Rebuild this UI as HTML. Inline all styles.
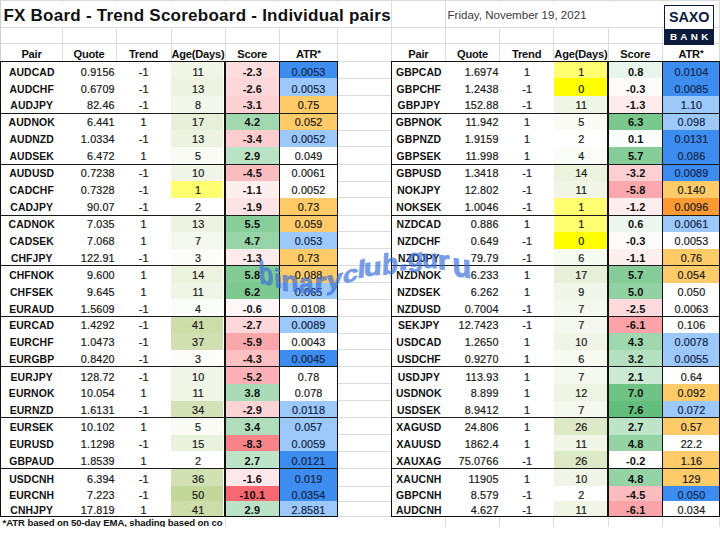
<!DOCTYPE html>
<html><head><meta charset="utf-8"><title>FX Board</title>
<style>
html,body{margin:0;padding:0;background:#fff;}
body{width:720px;height:536px;position:relative;overflow:hidden;font-family:"Liberation Sans",sans-serif;}
#c div{position:absolute;}
.t{font-size:10.4px;color:#111;white-space:nowrap;overflow:visible;letter-spacing:0.1px}
.n{color:#1c1c1c;font-size:10.8px;letter-spacing:0.15px;-webkit-text-stroke:0.22px}
.s{font-size:11px}
.row{height:16px;line-height:16px;font-size:0;white-space:nowrap}
.c{display:inline-block;line-height:16px;vertical-align:baseline;overflow:visible}
.h{font-size:11.1px;color:#111;letter-spacing:-0.2px}
.st{font-size:9.5px;line-height:0;position:relative;top:-1.2px;vertical-align:baseline}
#title{position:absolute;left:3.4px;top:3.6px;font-weight:bold;font-size:17px;line-height:24px;color:#111;white-space:nowrap;letter-spacing:0.25px}
#date{position:absolute;left:447.5px;top:6.5px;font-size:11.55px;line-height:16px;color:#3a3a3a;white-space:nowrap}
#logo{position:absolute;left:664.1px;top:5.4px;width:50px;height:39.3px;background:#0c1b3c;}
#logo .w{position:absolute;left:1.1px;top:1.1px;right:1.1px;height:22.5px;background:#fff;color:#0d1c3d;font-weight:bold;font-size:14.4px;line-height:23.6px;text-align:center;letter-spacing:-0.1px}
#logo .b{position:absolute;left:0;right:0;top:24.6px;height:14px;color:#fff;font-weight:bold;font-size:9.9px;line-height:14px;text-align:center;letter-spacing:3.3px;text-indent:3.3px}
</style></head><body>
<div id="c">
<div class="" style="left:0.00px;top:0.00px;width:720.00px;height:1.20px;background:#dcdcdc"></div>
<div class="" style="left:0.00px;top:27.00px;width:720.00px;height:1.00px;background:#dcdcdc"></div>
<div class="" style="left:0.00px;top:43.30px;width:720.00px;height:1.00px;background:#dcdcdc"></div>
<div class="" style="left:0.00px;top:60.50px;width:720.00px;height:1.00px;background:#dcdcdc"></div>
<div class="" style="left:0.00px;top:77.92px;width:720.00px;height:1.00px;background:#dcdcdc"></div>
<div class="" style="left:0.00px;top:95.08px;width:720.00px;height:1.00px;background:#dcdcdc"></div>
<div class="" style="left:0.00px;top:112.50px;width:720.00px;height:1.00px;background:#dcdcdc"></div>
<div class="" style="left:0.00px;top:129.59px;width:720.00px;height:1.00px;background:#dcdcdc"></div>
<div class="" style="left:0.00px;top:146.41px;width:720.00px;height:1.00px;background:#dcdcdc"></div>
<div class="" style="left:0.00px;top:163.50px;width:720.00px;height:1.00px;background:#dcdcdc"></div>
<div class="" style="left:0.00px;top:180.59px;width:720.00px;height:1.00px;background:#dcdcdc"></div>
<div class="" style="left:0.00px;top:197.41px;width:720.00px;height:1.00px;background:#dcdcdc"></div>
<div class="" style="left:0.00px;top:214.50px;width:720.00px;height:1.00px;background:#dcdcdc"></div>
<div class="" style="left:0.00px;top:231.48px;width:720.00px;height:1.00px;background:#dcdcdc"></div>
<div class="" style="left:0.00px;top:248.22px;width:720.00px;height:1.00px;background:#dcdcdc"></div>
<div class="" style="left:0.00px;top:265.20px;width:720.00px;height:1.00px;background:#dcdcdc"></div>
<div class="" style="left:0.00px;top:282.18px;width:720.00px;height:1.00px;background:#dcdcdc"></div>
<div class="" style="left:0.00px;top:298.92px;width:720.00px;height:1.00px;background:#dcdcdc"></div>
<div class="" style="left:0.00px;top:315.90px;width:720.00px;height:1.00px;background:#dcdcdc"></div>
<div class="" style="left:0.00px;top:332.75px;width:720.00px;height:1.00px;background:#dcdcdc"></div>
<div class="" style="left:0.00px;top:349.35px;width:720.00px;height:1.00px;background:#dcdcdc"></div>
<div class="" style="left:0.00px;top:366.20px;width:720.00px;height:1.00px;background:#dcdcdc"></div>
<div class="" style="left:0.00px;top:383.25px;width:720.00px;height:1.00px;background:#dcdcdc"></div>
<div class="" style="left:0.00px;top:400.05px;width:720.00px;height:1.00px;background:#dcdcdc"></div>
<div class="" style="left:0.00px;top:417.10px;width:720.00px;height:1.00px;background:#dcdcdc"></div>
<div class="" style="left:0.00px;top:434.05px;width:720.00px;height:1.00px;background:#dcdcdc"></div>
<div class="" style="left:0.00px;top:450.75px;width:720.00px;height:1.00px;background:#dcdcdc"></div>
<div class="" style="left:0.00px;top:467.70px;width:720.00px;height:1.00px;background:#dcdcdc"></div>
<div class="" style="left:0.00px;top:485.50px;width:720.00px;height:1.00px;background:#dcdcdc"></div>
<div class="" style="left:0.00px;top:500.70px;width:720.00px;height:1.00px;background:#dcdcdc"></div>
<div class="" style="left:0.00px;top:515.80px;width:720.00px;height:1.00px;background:#dcdcdc"></div>
<div class="" style="left:61.50px;top:0.00px;width:1.00px;height:527.00px;background:#dcdcdc"></div>
<div class="" style="left:115.50px;top:0.00px;width:1.00px;height:527.00px;background:#dcdcdc"></div>
<div class="" style="left:170.50px;top:0.00px;width:1.00px;height:527.00px;background:#dcdcdc"></div>
<div class="" style="left:224.50px;top:0.00px;width:1.00px;height:527.00px;background:#dcdcdc"></div>
<div class="" style="left:278.80px;top:0.00px;width:1.00px;height:527.00px;background:#dcdcdc"></div>
<div class="" style="left:337.00px;top:0.00px;width:1.00px;height:527.00px;background:#dcdcdc"></div>
<div class="" style="left:390.70px;top:0.00px;width:1.00px;height:527.00px;background:#dcdcdc"></div>
<div class="" style="left:445.00px;top:0.00px;width:1.00px;height:527.00px;background:#dcdcdc"></div>
<div class="" style="left:499.00px;top:0.00px;width:1.00px;height:527.00px;background:#dcdcdc"></div>
<div class="" style="left:553.30px;top:0.00px;width:1.00px;height:527.00px;background:#dcdcdc"></div>
<div class="" style="left:607.50px;top:0.00px;width:1.00px;height:527.00px;background:#dcdcdc"></div>
<div class="" style="left:662.00px;top:0.00px;width:1.00px;height:527.00px;background:#dcdcdc"></div>
<div class="" style="left:719.00px;top:0.00px;width:1.00px;height:527.00px;background:#dcdcdc"></div>
<div class="" style="left:0.00px;top:0.00px;width:0.90px;height:527.00px;background:#d0d0d0"></div>
<div class="" style="left:2.00px;top:2.00px;width:388.00px;height:25.00px;background:#fff"></div>
<div class="" style="left:446.50px;top:2.00px;width:216.00px;height:25.00px;background:#fff"></div>
<div class="" style="left:446.50px;top:2.00px;width:216.00px;height:25.00px;background:#fff"></div>
<div class="" style="left:1.00px;top:61.00px;width:336.50px;height:455.30px;background:#fff"></div>
<div class="" style="left:171.30px;top:61.00px;width:51.40px;height:17.42px;background:#f0f5e5"></div>
<div class="" style="left:225.00px;top:61.00px;width:54.00px;height:17.42px;background:#fdddde"></div>
<div class="" style="left:279.30px;top:61.00px;width:58.20px;height:17.42px;background:#3d8df0"></div>
<div class="row" style="left:1.20px;top:63.75px;"><span class="c t" style="width:61.00px;font-weight:bold;text-align:center">AUDCAD</span><span class="c t n" style="width:52.60px;text-align:right;margin-right:1.40px">0.9156</span><span class="c t n" style="width:55.00px;text-align:center">-1</span><span class="c t n" style="width:54.00px;text-align:center">11</span><span class="c t s" style="width:54.30px;font-weight:bold;text-align:center">-2.3</span><span class="c t n" style="width:58.20px;text-align:center;color:#14264a">0.0053</span></div>
<div class="" style="left:171.30px;top:78.42px;width:51.40px;height:17.16px;background:#edf3e0"></div>
<div class="" style="left:225.00px;top:78.42px;width:54.00px;height:17.16px;background:#fdd8da"></div>
<div class="" style="left:279.30px;top:78.42px;width:58.20px;height:17.16px;background:#9cc9f9"></div>
<div class="row" style="left:1.20px;top:80.55px;"><span class="c t" style="width:61.00px;font-weight:bold;text-align:center">AUDCHF</span><span class="c t n" style="width:52.60px;text-align:right;margin-right:1.40px">0.6709</span><span class="c t n" style="width:55.00px;text-align:center">-1</span><span class="c t n" style="width:54.00px;text-align:center">13</span><span class="c t s" style="width:54.30px;font-weight:bold;text-align:center">-2.6</span><span class="c t n" style="width:58.20px;text-align:center;color:#14264a">0.0053</span></div>
<div class="" style="left:171.30px;top:95.58px;width:51.40px;height:17.42px;background:#f4f7ec"></div>
<div class="" style="left:225.00px;top:95.58px;width:54.00px;height:17.42px;background:#fdd1d3"></div>
<div class="" style="left:279.30px;top:95.58px;width:58.20px;height:17.42px;background:#ffcb68"></div>
<div class="row" style="left:1.20px;top:97.05px;"><span class="c t" style="width:61.00px;font-weight:bold;text-align:center">AUDJPY</span><span class="c t n" style="width:52.60px;text-align:right;margin-right:1.40px">82.46</span><span class="c t n" style="width:55.00px;text-align:center">-1</span><span class="c t n" style="width:54.00px;text-align:center">8</span><span class="c t s" style="width:54.30px;font-weight:bold;text-align:center">-3.1</span><span class="c t n" style="width:58.20px;text-align:center">0.75</span></div>
<div class="" style="left:171.30px;top:113.00px;width:51.40px;height:17.09px;background:#e8efd8"></div>
<div class="" style="left:225.00px;top:113.00px;width:54.00px;height:17.09px;background:#a1d8af"></div>
<div class="" style="left:279.30px;top:113.00px;width:58.20px;height:17.09px;background:#ffcb68"></div>
<div class="row" style="left:1.20px;top:114.05px;"><span class="c t" style="width:61.00px;font-weight:bold;text-align:center">AUDNOK</span><span class="c t n" style="width:52.60px;text-align:right;margin-right:1.40px">6.441</span><span class="c t n" style="width:55.00px;text-align:center">1</span><span class="c t n" style="width:54.00px;text-align:center">17</span><span class="c t s" style="width:54.30px;font-weight:bold;text-align:center">4.2</span><span class="c t n" style="width:58.20px;text-align:center">0.052</span></div>
<div class="" style="left:171.30px;top:130.09px;width:51.40px;height:16.83px;background:#edf3e0"></div>
<div class="" style="left:225.00px;top:130.09px;width:54.00px;height:16.83px;background:#fccccf"></div>
<div class="" style="left:279.30px;top:130.09px;width:58.20px;height:16.83px;background:#9cc9f9"></div>
<div class="row" style="left:1.20px;top:131.35px;"><span class="c t" style="width:61.00px;font-weight:bold;text-align:center">AUDNZD</span><span class="c t n" style="width:52.60px;text-align:right;margin-right:1.40px">1.0334</span><span class="c t n" style="width:55.00px;text-align:center">-1</span><span class="c t n" style="width:54.00px;text-align:center">13</span><span class="c t s" style="width:54.30px;font-weight:bold;text-align:center">-3.4</span><span class="c t n" style="width:58.20px;text-align:center;color:#14264a">0.0052</span></div>
<div class="" style="left:171.30px;top:146.91px;width:51.40px;height:17.09px;background:#f9fbf4"></div>
<div class="" style="left:225.00px;top:146.91px;width:54.00px;height:17.09px;background:#bae2c5"></div>
<div class="" style="left:279.30px;top:146.91px;width:58.20px;height:17.09px;background:#ffffff"></div>
<div class="row" style="left:1.20px;top:148.05px;"><span class="c t" style="width:61.00px;font-weight:bold;text-align:center">AUDSEK</span><span class="c t n" style="width:52.60px;text-align:right;margin-right:1.40px">6.472</span><span class="c t n" style="width:55.00px;text-align:center">1</span><span class="c t n" style="width:54.00px;text-align:center">5</span><span class="c t s" style="width:54.30px;font-weight:bold;text-align:center">2.9</span><span class="c t n" style="width:58.20px;text-align:center">0.049</span></div>
<div class="" style="left:171.30px;top:164.00px;width:51.40px;height:17.09px;background:#f1f5e7"></div>
<div class="" style="left:225.00px;top:164.00px;width:54.00px;height:17.09px;background:#fbbcbf"></div>
<div class="" style="left:279.30px;top:164.00px;width:58.20px;height:17.09px;background:#ffffff"></div>
<div class="row" style="left:1.20px;top:165.25px;"><span class="c t" style="width:61.00px;font-weight:bold;text-align:center">AUDUSD</span><span class="c t n" style="width:52.60px;text-align:right;margin-right:1.40px">0.7238</span><span class="c t n" style="width:55.00px;text-align:center">-1</span><span class="c t n" style="width:54.00px;text-align:center">10</span><span class="c t s" style="width:54.30px;font-weight:bold;text-align:center">-4.5</span><span class="c t n" style="width:58.20px;text-align:center">0.0061</span></div>
<div class="" style="left:171.30px;top:181.09px;width:51.40px;height:16.83px;background:#ffff71"></div>
<div class="" style="left:225.00px;top:181.09px;width:54.00px;height:16.83px;background:#feefef"></div>
<div class="" style="left:279.30px;top:181.09px;width:58.20px;height:16.83px;background:#ffffff"></div>
<div class="row" style="left:1.20px;top:182.05px;"><span class="c t" style="width:61.00px;font-weight:bold;text-align:center">CADCHF</span><span class="c t n" style="width:52.60px;text-align:right;margin-right:1.40px">0.7328</span><span class="c t n" style="width:55.00px;text-align:center">-1</span><span class="c t n" style="width:54.00px;text-align:center">1</span><span class="c t s" style="width:54.30px;font-weight:bold;text-align:center">-1.1</span><span class="c t n" style="width:58.20px;text-align:center">0.0052</span></div>
<div class="" style="left:171.30px;top:197.91px;width:51.40px;height:17.09px;background:#ffffff"></div>
<div class="" style="left:225.00px;top:197.91px;width:54.00px;height:17.09px;background:#fde3e4"></div>
<div class="" style="left:279.30px;top:197.91px;width:58.20px;height:17.09px;background:#ffcb68"></div>
<div class="row" style="left:1.20px;top:199.05px;"><span class="c t" style="width:61.00px;font-weight:bold;text-align:center">CADJPY</span><span class="c t n" style="width:52.60px;text-align:right;margin-right:1.40px">90.07</span><span class="c t n" style="width:55.00px;text-align:center">-1</span><span class="c t n" style="width:54.00px;text-align:center">2</span><span class="c t s" style="width:54.30px;font-weight:bold;text-align:center">-1.9</span><span class="c t n" style="width:58.20px;text-align:center">0.73</span></div>
<div class="" style="left:171.30px;top:215.00px;width:51.40px;height:16.98px;background:#edf3e0"></div>
<div class="" style="left:225.00px;top:215.00px;width:54.00px;height:16.98px;background:#88ce9b"></div>
<div class="" style="left:279.30px;top:215.00px;width:58.20px;height:16.98px;background:#ffcb68"></div>
<div class="row" style="left:1.20px;top:215.65px;"><span class="c t" style="width:61.00px;font-weight:bold;text-align:center">CADNOK</span><span class="c t n" style="width:52.60px;text-align:right;margin-right:1.40px">7.035</span><span class="c t n" style="width:55.00px;text-align:center">1</span><span class="c t n" style="width:54.00px;text-align:center">13</span><span class="c t s" style="width:54.30px;font-weight:bold;text-align:center">5.5</span><span class="c t n" style="width:58.20px;text-align:center">0.059</span></div>
<div class="" style="left:171.30px;top:231.98px;width:51.40px;height:16.73px;background:#f5f8ef"></div>
<div class="" style="left:225.00px;top:231.98px;width:54.00px;height:16.73px;background:#97d4a7"></div>
<div class="" style="left:279.30px;top:231.98px;width:58.20px;height:16.73px;background:#9cc9f9"></div>
<div class="row" style="left:1.20px;top:232.65px;"><span class="c t" style="width:61.00px;font-weight:bold;text-align:center">CADSEK</span><span class="c t n" style="width:52.60px;text-align:right;margin-right:1.40px">7.068</span><span class="c t n" style="width:55.00px;text-align:center">1</span><span class="c t n" style="width:54.00px;text-align:center">7</span><span class="c t s" style="width:54.30px;font-weight:bold;text-align:center">4.7</span><span class="c t n" style="width:58.20px;text-align:center;color:#14264a">0.053</span></div>
<div class="" style="left:171.30px;top:248.72px;width:51.40px;height:16.98px;background:#fcfdfa"></div>
<div class="" style="left:225.00px;top:248.72px;width:54.00px;height:16.98px;background:#feeced"></div>
<div class="" style="left:279.30px;top:248.72px;width:58.20px;height:16.98px;background:#ffcb68"></div>
<div class="row" style="left:1.20px;top:249.95px;"><span class="c t" style="width:61.00px;font-weight:bold;text-align:center">CHFJPY</span><span class="c t n" style="width:52.60px;text-align:right;margin-right:1.40px">122.91</span><span class="c t n" style="width:55.00px;text-align:center">-1</span><span class="c t n" style="width:54.00px;text-align:center">3</span><span class="c t s" style="width:54.30px;font-weight:bold;text-align:center">-1.3</span><span class="c t n" style="width:58.20px;text-align:center">0.73</span></div>
<div class="" style="left:171.30px;top:265.70px;width:51.40px;height:16.98px;background:#ecf2de"></div>
<div class="" style="left:225.00px;top:265.70px;width:54.00px;height:16.98px;background:#83cb96"></div>
<div class="" style="left:279.30px;top:265.70px;width:58.20px;height:16.98px;background:#ffcb68"></div>
<div class="row" style="left:1.20px;top:267.05px;"><span class="c t" style="width:61.00px;font-weight:bold;text-align:center">CHFNOK</span><span class="c t n" style="width:52.60px;text-align:right;margin-right:1.40px">9.600</span><span class="c t n" style="width:55.00px;text-align:center">1</span><span class="c t n" style="width:54.00px;text-align:center">14</span><span class="c t s" style="width:54.30px;font-weight:bold;text-align:center">5.8</span><span class="c t n" style="width:58.20px;text-align:center">0.088</span></div>
<div class="" style="left:171.30px;top:282.68px;width:51.40px;height:16.73px;background:#f0f5e5"></div>
<div class="" style="left:225.00px;top:282.68px;width:54.00px;height:16.73px;background:#7cc890"></div>
<div class="" style="left:279.30px;top:282.68px;width:58.20px;height:16.73px;background:#9cc9f9"></div>
<div class="row" style="left:1.20px;top:283.85px;"><span class="c t" style="width:61.00px;font-weight:bold;text-align:center">CHFSEK</span><span class="c t n" style="width:52.60px;text-align:right;margin-right:1.40px">9.645</span><span class="c t n" style="width:55.00px;text-align:center">1</span><span class="c t n" style="width:54.00px;text-align:center">11</span><span class="c t s" style="width:54.30px;font-weight:bold;text-align:center">6.2</span><span class="c t n" style="width:58.20px;text-align:center;color:#14264a">0.065</span></div>
<div class="" style="left:171.30px;top:299.42px;width:51.40px;height:16.98px;background:#fafcf7"></div>
<div class="" style="left:225.00px;top:299.42px;width:54.00px;height:16.98px;background:#fff6f7"></div>
<div class="" style="left:279.30px;top:299.42px;width:58.20px;height:16.98px;background:#ffffff"></div>
<div class="row" style="left:1.20px;top:300.65px;"><span class="c t" style="width:61.00px;font-weight:bold;text-align:center">EURAUD</span><span class="c t n" style="width:52.60px;text-align:right;margin-right:1.40px">1.5609</span><span class="c t n" style="width:55.00px;text-align:center">-1</span><span class="c t n" style="width:54.00px;text-align:center">4</span><span class="c t s" style="width:54.30px;font-weight:bold;text-align:center">-0.6</span><span class="c t n" style="width:58.20px;text-align:center">0.0108</span></div>
<div class="" style="left:171.30px;top:316.40px;width:51.40px;height:16.85px;background:#cdddaa"></div>
<div class="" style="left:225.00px;top:316.40px;width:54.00px;height:16.85px;background:#fdd7d9"></div>
<div class="" style="left:279.30px;top:316.40px;width:58.20px;height:16.85px;background:#9cc9f9"></div>
<div class="row" style="left:1.20px;top:317.45px;"><span class="c t" style="width:61.00px;font-weight:bold;text-align:center">EURCAD</span><span class="c t n" style="width:52.60px;text-align:right;margin-right:1.40px">1.4292</span><span class="c t n" style="width:55.00px;text-align:center">-1</span><span class="c t n" style="width:54.00px;text-align:center">41</span><span class="c t s" style="width:54.30px;font-weight:bold;text-align:center">-2.7</span><span class="c t n" style="width:58.20px;text-align:center;color:#14264a">0.0089</span></div>
<div class="" style="left:171.30px;top:333.25px;width:51.40px;height:16.60px;background:#d1e0b1"></div>
<div class="" style="left:225.00px;top:333.25px;width:54.00px;height:16.60px;background:#faa7ab"></div>
<div class="" style="left:279.30px;top:333.25px;width:58.20px;height:16.60px;background:#ffffff"></div>
<div class="row" style="left:1.20px;top:334.25px;"><span class="c t" style="width:61.00px;font-weight:bold;text-align:center">EURCHF</span><span class="c t n" style="width:52.60px;text-align:right;margin-right:1.40px">1.0473</span><span class="c t n" style="width:55.00px;text-align:center">-1</span><span class="c t n" style="width:54.00px;text-align:center">37</span><span class="c t s" style="width:54.30px;font-weight:bold;text-align:center">-5.9</span><span class="c t n" style="width:58.20px;text-align:center">0.0043</span></div>
<div class="" style="left:171.30px;top:349.85px;width:51.40px;height:16.85px;background:#fcfdfa"></div>
<div class="" style="left:225.00px;top:349.85px;width:54.00px;height:16.85px;background:#fcbfc2"></div>
<div class="" style="left:279.30px;top:349.85px;width:58.20px;height:16.85px;background:#3d8df0"></div>
<div class="row" style="left:1.20px;top:351.25px;"><span class="c t" style="width:61.00px;font-weight:bold;text-align:center">EURGBP</span><span class="c t n" style="width:52.60px;text-align:right;margin-right:1.40px">0.8420</span><span class="c t n" style="width:55.00px;text-align:center">-1</span><span class="c t n" style="width:54.00px;text-align:center">3</span><span class="c t s" style="width:54.30px;font-weight:bold;text-align:center">-4.3</span><span class="c t n" style="width:58.20px;text-align:center;color:#14264a">0.0045</span></div>
<div class="" style="left:171.30px;top:366.70px;width:51.40px;height:17.05px;background:#f1f5e7"></div>
<div class="" style="left:225.00px;top:366.70px;width:54.00px;height:17.05px;background:#fbb1b5"></div>
<div class="" style="left:279.30px;top:366.70px;width:58.20px;height:17.05px;background:#ffffff"></div>
<div class="row" style="left:1.20px;top:368.65px;"><span class="c t" style="width:61.00px;font-weight:bold;text-align:center">EURJPY</span><span class="c t n" style="width:52.60px;text-align:right;margin-right:1.40px">128.72</span><span class="c t n" style="width:55.00px;text-align:center">-1</span><span class="c t n" style="width:54.00px;text-align:center">10</span><span class="c t s" style="width:54.30px;font-weight:bold;text-align:center">-5.2</span><span class="c t n" style="width:58.20px;text-align:center">0.78</span></div>
<div class="" style="left:171.30px;top:383.75px;width:51.40px;height:16.80px;background:#f0f5e5"></div>
<div class="" style="left:225.00px;top:383.75px;width:54.00px;height:16.80px;background:#a8dbb6"></div>
<div class="" style="left:279.30px;top:383.75px;width:58.20px;height:16.80px;background:#ffffff"></div>
<div class="row" style="left:1.20px;top:385.25px;"><span class="c t" style="width:61.00px;font-weight:bold;text-align:center">EURNOK</span><span class="c t n" style="width:52.60px;text-align:right;margin-right:1.40px">10.054</span><span class="c t n" style="width:55.00px;text-align:center">1</span><span class="c t n" style="width:54.00px;text-align:center">11</span><span class="c t s" style="width:54.30px;font-weight:bold;text-align:center">3.8</span><span class="c t n" style="width:58.20px;text-align:center">0.078</span></div>
<div class="" style="left:171.30px;top:400.55px;width:51.40px;height:17.05px;background:#d4e2b7"></div>
<div class="" style="left:225.00px;top:400.55px;width:54.00px;height:17.05px;background:#fdd4d6"></div>
<div class="" style="left:279.30px;top:400.55px;width:58.20px;height:17.05px;background:#9cc9f9"></div>
<div class="row" style="left:1.20px;top:402.25px;"><span class="c t" style="width:61.00px;font-weight:bold;text-align:center">EURNZD</span><span class="c t n" style="width:52.60px;text-align:right;margin-right:1.40px">1.6131</span><span class="c t n" style="width:55.00px;text-align:center">-1</span><span class="c t n" style="width:54.00px;text-align:center">34</span><span class="c t s" style="width:54.30px;font-weight:bold;text-align:center">-2.9</span><span class="c t n" style="width:58.20px;text-align:center;color:#14264a">0.0118</span></div>
<div class="" style="left:171.30px;top:417.60px;width:51.40px;height:16.95px;background:#f9fbf4"></div>
<div class="" style="left:225.00px;top:417.60px;width:54.00px;height:16.95px;background:#b0debc"></div>
<div class="" style="left:279.30px;top:417.60px;width:58.20px;height:16.95px;background:#9cc9f9"></div>
<div class="row" style="left:1.20px;top:419.25px;"><span class="c t" style="width:61.00px;font-weight:bold;text-align:center">EURSEK</span><span class="c t n" style="width:52.60px;text-align:right;margin-right:1.40px">10.102</span><span class="c t n" style="width:55.00px;text-align:center">1</span><span class="c t n" style="width:54.00px;text-align:center">5</span><span class="c t s" style="width:54.30px;font-weight:bold;text-align:center">3.4</span><span class="c t n" style="width:58.20px;text-align:center;color:#14264a">0.057</span></div>
<div class="" style="left:171.30px;top:434.55px;width:51.40px;height:16.70px;background:#eaf1dc"></div>
<div class="" style="left:225.00px;top:434.55px;width:54.00px;height:16.70px;background:#f88389"></div>
<div class="" style="left:279.30px;top:434.55px;width:58.20px;height:16.70px;background:#9cc9f9"></div>
<div class="row" style="left:1.20px;top:435.85px;"><span class="c t" style="width:61.00px;font-weight:bold;text-align:center">EURUSD</span><span class="c t n" style="width:52.60px;text-align:right;margin-right:1.40px">1.1298</span><span class="c t n" style="width:55.00px;text-align:center">-1</span><span class="c t n" style="width:54.00px;text-align:center">15</span><span class="c t s" style="width:54.30px;font-weight:bold;text-align:center">-8.3</span><span class="c t n" style="width:58.20px;text-align:center;color:#14264a">0.0059</span></div>
<div class="" style="left:171.30px;top:451.25px;width:51.40px;height:16.95px;background:#ffffff"></div>
<div class="" style="left:225.00px;top:451.25px;width:54.00px;height:16.95px;background:#bee4c8"></div>
<div class="" style="left:279.30px;top:451.25px;width:58.20px;height:16.95px;background:#3d8df0"></div>
<div class="row" style="left:1.20px;top:452.55px;"><span class="c t" style="width:61.00px;font-weight:bold;text-align:center">GBPAUD</span><span class="c t n" style="width:52.60px;text-align:right;margin-right:1.40px">1.8539</span><span class="c t n" style="width:55.00px;text-align:center">1</span><span class="c t n" style="width:54.00px;text-align:center">2</span><span class="c t s" style="width:54.30px;font-weight:bold;text-align:center">2.7</span><span class="c t n" style="width:58.20px;text-align:center;color:#14264a">0.0121</span></div>
<div class="" style="left:171.30px;top:468.20px;width:51.40px;height:17.80px;background:#d2e1b3"></div>
<div class="" style="left:225.00px;top:468.20px;width:54.00px;height:17.80px;background:#fee7e8"></div>
<div class="" style="left:279.30px;top:468.20px;width:58.20px;height:17.80px;background:#3d8df0"></div>
<div class="row" style="left:1.20px;top:470.65px;"><span class="c t" style="width:61.00px;font-weight:bold;text-align:center">USDCNH</span><span class="c t n" style="width:52.60px;text-align:right;margin-right:1.40px">6.394</span><span class="c t n" style="width:55.00px;text-align:center">-1</span><span class="c t n" style="width:54.00px;text-align:center">36</span><span class="c t s" style="width:54.30px;font-weight:bold;text-align:center">-1.6</span><span class="c t n" style="width:58.20px;text-align:center;color:#14264a">0.019</span></div>
<div class="" style="left:171.30px;top:486.00px;width:51.40px;height:15.20px;background:#c4d79b"></div>
<div class="" style="left:225.00px;top:486.00px;width:54.00px;height:15.20px;background:#f76870"></div>
<div class="" style="left:279.30px;top:486.00px;width:58.20px;height:15.20px;background:#3d8df0"></div>
<div class="row" style="left:1.20px;top:486.65px;"><span class="c t" style="width:61.00px;font-weight:bold;text-align:center">EURCNH</span><span class="c t n" style="width:52.60px;text-align:right;margin-right:1.40px">7.223</span><span class="c t n" style="width:55.00px;text-align:center">-1</span><span class="c t n" style="width:54.00px;text-align:center">50</span><span class="c t s" style="width:54.30px;font-weight:bold;text-align:center">-10.1</span><span class="c t n" style="width:58.20px;text-align:center;color:#14264a">0.0354</span></div>
<div class="" style="left:171.30px;top:501.20px;width:51.40px;height:15.10px;background:#cdddaa"></div>
<div class="" style="left:225.00px;top:501.20px;width:54.00px;height:15.10px;background:#bae2c5"></div>
<div class="" style="left:279.30px;top:501.20px;width:58.20px;height:15.10px;background:#9cc9f9"></div>
<div class="row" style="left:1.20px;top:502.05px;"><span class="c t" style="width:61.00px;font-weight:bold;text-align:center">CNHJPY</span><span class="c t n" style="width:52.60px;text-align:right;margin-right:1.40px">17.819</span><span class="c t n" style="width:55.00px;text-align:center">1</span><span class="c t n" style="width:54.00px;text-align:center">41</span><span class="c t s" style="width:54.30px;font-weight:bold;text-align:center">2.9</span><span class="c t n" style="width:58.20px;text-align:center;color:#14264a">2.8581</span></div>
<div class="t h" style="left:-3.00px;top:44.50px;width:69.00px;height:16.00px;line-height:19px;font-weight:bold;text-align:center;">Pair</div>
<div class="t h" style="left:58.00px;top:44.50px;width:62.00px;height:16.00px;line-height:19px;font-weight:bold;text-align:center;">Quote</div>
<div class="t h" style="left:112.00px;top:44.50px;width:63.00px;height:16.00px;line-height:19px;font-weight:bold;text-align:center;">Trend</div>
<div class="t h" style="left:167.00px;top:44.50px;width:62.00px;height:16.00px;line-height:19px;font-weight:bold;text-align:center;">Age(Days)</div>
<div class="t h" style="left:221.00px;top:44.50px;width:62.30px;height:16.00px;line-height:19px;font-weight:bold;text-align:center;">Score</div>
<div class="t h" style="left:275.30px;top:44.50px;width:66.20px;height:16.00px;line-height:19px;font-weight:bold;text-align:center;">ATR<span class='st'>*</span></div>
<div class="" style="left:0.50px;top:60.70px;width:337.80px;height:1.75px;background:#111"></div>
<div class="" style="left:1.00px;top:112.60px;width:336.50px;height:1.15px;background:#1a1a1a"></div>
<div class="" style="left:1.00px;top:163.60px;width:336.50px;height:1.15px;background:#1a1a1a"></div>
<div class="" style="left:1.00px;top:214.60px;width:336.50px;height:1.15px;background:#1a1a1a"></div>
<div class="" style="left:1.00px;top:265.30px;width:336.50px;height:1.15px;background:#1a1a1a"></div>
<div class="" style="left:1.00px;top:316.00px;width:336.50px;height:1.15px;background:#1a1a1a"></div>
<div class="" style="left:1.00px;top:366.30px;width:336.50px;height:1.15px;background:#1a1a1a"></div>
<div class="" style="left:1.00px;top:417.20px;width:336.50px;height:1.15px;background:#1a1a1a"></div>
<div class="" style="left:1.00px;top:467.80px;width:336.50px;height:1.15px;background:#1a1a1a"></div>
<div class="" style="left:1.00px;top:515.70px;width:337.30px;height:1.40px;background:#111"></div>
<div class="" style="left:0.00px;top:60.70px;width:1.10px;height:456.30px;background:#111"></div>
<div class="" style="left:224.15px;top:61.00px;width:1.55px;height:455.30px;background:#111"></div>
<div class="" style="left:278.50px;top:61.00px;width:1.60px;height:455.30px;background:#111"></div>
<div class="" style="left:336.60px;top:60.70px;width:1.60px;height:456.30px;background:#111"></div>
<div class="" style="left:224.10px;top:467.60px;width:55.90px;height:49.00px;border:1.8px solid #111;box-sizing:border-box"></div>
<div class="" style="left:391.20px;top:61.00px;width:328.30px;height:455.30px;background:#fff"></div>
<div class="" style="left:554.10px;top:61.00px;width:52.50px;height:17.42px;background:#ffff71"></div>
<div class="" style="left:608.00px;top:61.00px;width:54.20px;height:17.42px;background:#e8f5ec"></div>
<div class="" style="left:662.50px;top:61.00px;width:57.00px;height:17.42px;background:#3d8df0"></div>
<div class="row" style="left:391.70px;top:63.75px;"><span class="c t" style="width:54.30px;font-weight:bold;text-align:center">GBPCAD</span><span class="c t n" style="width:52.60px;text-align:right;margin-right:1.40px">1.6974</span><span class="c t n" style="width:54.30px;text-align:center">1</span><span class="c t n" style="width:54.20px;text-align:center">1</span><span class="c t s" style="width:54.50px;font-weight:bold;text-align:center">0.8</span><span class="c t n" style="width:57.00px;text-align:center;color:#14264a">0.0104</span></div>
<div class="" style="left:554.10px;top:78.42px;width:52.50px;height:17.16px;background:#ffff00"></div>
<div class="" style="left:608.00px;top:78.42px;width:54.20px;height:17.16px;background:#fffbfb"></div>
<div class="" style="left:662.50px;top:78.42px;width:57.00px;height:17.16px;background:#3d8df0"></div>
<div class="row" style="left:391.70px;top:80.55px;"><span class="c t" style="width:54.30px;font-weight:bold;text-align:center">GBPCHF</span><span class="c t n" style="width:52.60px;text-align:right;margin-right:1.40px">1.2438</span><span class="c t n" style="width:54.30px;text-align:center">-1</span><span class="c t n" style="width:54.20px;text-align:center">0</span><span class="c t s" style="width:54.50px;font-weight:bold;text-align:center">-0.3</span><span class="c t n" style="width:57.00px;text-align:center;color:#14264a">0.0085</span></div>
<div class="" style="left:554.10px;top:95.58px;width:52.50px;height:17.42px;background:#f0f5e5"></div>
<div class="" style="left:608.00px;top:95.58px;width:54.20px;height:17.42px;background:#feeced"></div>
<div class="" style="left:662.50px;top:95.58px;width:57.00px;height:17.42px;background:#9cc9f9"></div>
<div class="row" style="left:391.70px;top:97.05px;"><span class="c t" style="width:54.30px;font-weight:bold;text-align:center">GBPJPY</span><span class="c t n" style="width:52.60px;text-align:right;margin-right:1.40px">152.88</span><span class="c t n" style="width:54.30px;text-align:center">-1</span><span class="c t n" style="width:54.20px;text-align:center">11</span><span class="c t s" style="width:54.50px;font-weight:bold;text-align:center">-1.3</span><span class="c t n" style="width:57.00px;text-align:center;color:#14264a">1.10</span></div>
<div class="" style="left:554.10px;top:113.00px;width:52.50px;height:17.09px;background:#f9fbf4"></div>
<div class="" style="left:608.00px;top:113.00px;width:54.20px;height:17.09px;background:#7ac88e"></div>
<div class="" style="left:662.50px;top:113.00px;width:57.00px;height:17.09px;background:#9cc9f9"></div>
<div class="row" style="left:391.70px;top:114.05px;"><span class="c t" style="width:54.30px;font-weight:bold;text-align:center">GBPNOK</span><span class="c t n" style="width:52.60px;text-align:right;margin-right:1.40px">11.942</span><span class="c t n" style="width:54.30px;text-align:center">1</span><span class="c t n" style="width:54.20px;text-align:center">5</span><span class="c t s" style="width:54.50px;font-weight:bold;text-align:center">6.3</span><span class="c t n" style="width:57.00px;text-align:center;color:#14264a">0.098</span></div>
<div class="" style="left:554.10px;top:130.09px;width:52.50px;height:16.83px;background:#ffffff"></div>
<div class="" style="left:608.00px;top:130.09px;width:54.20px;height:16.83px;background:#fbfdfc"></div>
<div class="" style="left:662.50px;top:130.09px;width:57.00px;height:16.83px;background:#3d8df0"></div>
<div class="row" style="left:391.70px;top:131.35px;"><span class="c t" style="width:54.30px;font-weight:bold;text-align:center">GBPNZD</span><span class="c t n" style="width:52.60px;text-align:right;margin-right:1.40px">1.9159</span><span class="c t n" style="width:54.30px;text-align:center">1</span><span class="c t n" style="width:54.20px;text-align:center">2</span><span class="c t s" style="width:54.50px;font-weight:bold;text-align:center">0.1</span><span class="c t n" style="width:57.00px;text-align:center;color:#14264a">0.0131</span></div>
<div class="" style="left:554.10px;top:146.91px;width:52.50px;height:17.09px;background:#fafcf7"></div>
<div class="" style="left:608.00px;top:146.91px;width:54.20px;height:17.09px;background:#85cc98"></div>
<div class="" style="left:662.50px;top:146.91px;width:57.00px;height:17.09px;background:#3d8df0"></div>
<div class="row" style="left:391.70px;top:148.05px;"><span class="c t" style="width:54.30px;font-weight:bold;text-align:center">GBPSEK</span><span class="c t n" style="width:52.60px;text-align:right;margin-right:1.40px">11.998</span><span class="c t n" style="width:54.30px;text-align:center">1</span><span class="c t n" style="width:54.20px;text-align:center">4</span><span class="c t s" style="width:54.50px;font-weight:bold;text-align:center">5.7</span><span class="c t n" style="width:57.00px;text-align:center;color:#14264a">0.086</span></div>
<div class="" style="left:554.10px;top:164.00px;width:52.50px;height:17.09px;background:#ecf2de"></div>
<div class="" style="left:608.00px;top:164.00px;width:54.20px;height:17.09px;background:#fccfd2"></div>
<div class="" style="left:662.50px;top:164.00px;width:57.00px;height:17.09px;background:#3d8df0"></div>
<div class="row" style="left:391.70px;top:165.25px;"><span class="c t" style="width:54.30px;font-weight:bold;text-align:center">GBPUSD</span><span class="c t n" style="width:52.60px;text-align:right;margin-right:1.40px">1.3418</span><span class="c t n" style="width:54.30px;text-align:center">-1</span><span class="c t n" style="width:54.20px;text-align:center">14</span><span class="c t s" style="width:54.50px;font-weight:bold;text-align:center">-3.2</span><span class="c t n" style="width:57.00px;text-align:center;color:#14264a">0.0089</span></div>
<div class="" style="left:554.10px;top:181.09px;width:52.50px;height:16.83px;background:#f0f5e5"></div>
<div class="" style="left:608.00px;top:181.09px;width:54.20px;height:16.83px;background:#faa8ad"></div>
<div class="" style="left:662.50px;top:181.09px;width:57.00px;height:16.83px;background:#ffcb68"></div>
<div class="row" style="left:391.70px;top:182.05px;"><span class="c t" style="width:54.30px;font-weight:bold;text-align:center">NOKJPY</span><span class="c t n" style="width:52.60px;text-align:right;margin-right:1.40px">12.802</span><span class="c t n" style="width:54.30px;text-align:center">-1</span><span class="c t n" style="width:54.20px;text-align:center">11</span><span class="c t s" style="width:54.50px;font-weight:bold;text-align:center">-5.8</span><span class="c t n" style="width:57.00px;text-align:center">0.140</span></div>
<div class="" style="left:554.10px;top:197.91px;width:52.50px;height:17.09px;background:#ffff71"></div>
<div class="" style="left:608.00px;top:197.91px;width:54.20px;height:17.09px;background:#feedee"></div>
<div class="" style="left:662.50px;top:197.91px;width:57.00px;height:17.09px;background:#ff9a33"></div>
<div class="row" style="left:391.70px;top:199.05px;"><span class="c t" style="width:54.30px;font-weight:bold;text-align:center">NOKSEK</span><span class="c t n" style="width:52.60px;text-align:right;margin-right:1.40px">1.0046</span><span class="c t n" style="width:54.30px;text-align:center">-1</span><span class="c t n" style="width:54.20px;text-align:center">1</span><span class="c t s" style="width:54.50px;font-weight:bold;text-align:center">-1.2</span><span class="c t n" style="width:57.00px;text-align:center">0.0096</span></div>
<div class="" style="left:554.10px;top:215.00px;width:52.50px;height:16.98px;background:#ffff71"></div>
<div class="" style="left:608.00px;top:215.00px;width:54.20px;height:16.98px;background:#edf7f0"></div>
<div class="" style="left:662.50px;top:215.00px;width:57.00px;height:16.98px;background:#9cc9f9"></div>
<div class="row" style="left:391.70px;top:215.65px;"><span class="c t" style="width:54.30px;font-weight:bold;text-align:center">NZDCAD</span><span class="c t n" style="width:52.60px;text-align:right;margin-right:1.40px">0.886</span><span class="c t n" style="width:54.30px;text-align:center">1</span><span class="c t n" style="width:54.20px;text-align:center">1</span><span class="c t s" style="width:54.50px;font-weight:bold;text-align:center">0.6</span><span class="c t n" style="width:57.00px;text-align:center;color:#14264a">0.0061</span></div>
<div class="" style="left:554.10px;top:231.98px;width:52.50px;height:16.73px;background:#ffff00"></div>
<div class="" style="left:608.00px;top:231.98px;width:54.20px;height:16.73px;background:#fffbfb"></div>
<div class="" style="left:662.50px;top:231.98px;width:57.00px;height:16.73px;background:#ffffff"></div>
<div class="row" style="left:391.70px;top:232.65px;"><span class="c t" style="width:54.30px;font-weight:bold;text-align:center">NZDCHF</span><span class="c t n" style="width:52.60px;text-align:right;margin-right:1.40px">0.649</span><span class="c t n" style="width:54.30px;text-align:center">-1</span><span class="c t n" style="width:54.20px;text-align:center">0</span><span class="c t s" style="width:54.50px;font-weight:bold;text-align:center">-0.3</span><span class="c t n" style="width:57.00px;text-align:center">0.0053</span></div>
<div class="" style="left:554.10px;top:248.72px;width:52.50px;height:16.98px;background:#f7faf1"></div>
<div class="" style="left:608.00px;top:248.72px;width:54.20px;height:16.98px;background:#feefef"></div>
<div class="" style="left:662.50px;top:248.72px;width:57.00px;height:16.98px;background:#ffcb68"></div>
<div class="row" style="left:391.70px;top:249.95px;"><span class="c t" style="width:54.30px;font-weight:bold;text-align:center">NZDJPY</span><span class="c t n" style="width:52.60px;text-align:right;margin-right:1.40px">79.79</span><span class="c t n" style="width:54.30px;text-align:center">-1</span><span class="c t n" style="width:54.20px;text-align:center">6</span><span class="c t s" style="width:54.50px;font-weight:bold;text-align:center">-1.1</span><span class="c t n" style="width:57.00px;text-align:center">0.76</span></div>
<div class="" style="left:554.10px;top:265.70px;width:52.50px;height:16.98px;background:#e8efd8"></div>
<div class="" style="left:608.00px;top:265.70px;width:54.20px;height:16.98px;background:#85cc98"></div>
<div class="" style="left:662.50px;top:265.70px;width:57.00px;height:16.98px;background:#ffcb68"></div>
<div class="row" style="left:391.70px;top:267.05px;"><span class="c t" style="width:54.30px;font-weight:bold;text-align:center">NZDNOK</span><span class="c t n" style="width:52.60px;text-align:right;margin-right:1.40px">6.233</span><span class="c t n" style="width:54.30px;text-align:center">1</span><span class="c t n" style="width:54.20px;text-align:center">17</span><span class="c t s" style="width:54.50px;font-weight:bold;text-align:center">5.7</span><span class="c t n" style="width:57.00px;text-align:center">0.054</span></div>
<div class="" style="left:554.10px;top:282.68px;width:52.50px;height:16.73px;background:#f2f6ea"></div>
<div class="" style="left:608.00px;top:282.68px;width:54.20px;height:16.73px;background:#92d1a3"></div>
<div class="" style="left:662.50px;top:282.68px;width:57.00px;height:16.73px;background:#ffffff"></div>
<div class="row" style="left:391.70px;top:283.85px;"><span class="c t" style="width:54.30px;font-weight:bold;text-align:center">NZDSEK</span><span class="c t n" style="width:52.60px;text-align:right;margin-right:1.40px">6.262</span><span class="c t n" style="width:54.30px;text-align:center">1</span><span class="c t n" style="width:54.20px;text-align:center">9</span><span class="c t s" style="width:54.50px;font-weight:bold;text-align:center">5.0</span><span class="c t n" style="width:57.00px;text-align:center">0.050</span></div>
<div class="" style="left:554.10px;top:299.42px;width:52.50px;height:16.98px;background:#f5f8ef"></div>
<div class="" style="left:608.00px;top:299.42px;width:54.20px;height:16.98px;background:#fddadc"></div>
<div class="" style="left:662.50px;top:299.42px;width:57.00px;height:16.98px;background:#ffffff"></div>
<div class="row" style="left:391.70px;top:300.65px;"><span class="c t" style="width:54.30px;font-weight:bold;text-align:center">NZDUSD</span><span class="c t n" style="width:52.60px;text-align:right;margin-right:1.40px">0.7004</span><span class="c t n" style="width:54.30px;text-align:center">-1</span><span class="c t n" style="width:54.20px;text-align:center">7</span><span class="c t s" style="width:54.50px;font-weight:bold;text-align:center">-2.5</span><span class="c t n" style="width:57.00px;text-align:center">0.0063</span></div>
<div class="" style="left:554.10px;top:316.40px;width:52.50px;height:16.85px;background:#f5f8ef"></div>
<div class="" style="left:608.00px;top:316.40px;width:54.20px;height:16.85px;background:#faa4a9"></div>
<div class="" style="left:662.50px;top:316.40px;width:57.00px;height:16.85px;background:#ffffff"></div>
<div class="row" style="left:391.70px;top:317.45px;"><span class="c t" style="width:54.30px;font-weight:bold;text-align:center">SEKJPY</span><span class="c t n" style="width:52.60px;text-align:right;margin-right:1.40px">12.7423</span><span class="c t n" style="width:54.30px;text-align:center">-1</span><span class="c t n" style="width:54.20px;text-align:center">7</span><span class="c t s" style="width:54.50px;font-weight:bold;text-align:center">-6.1</span><span class="c t n" style="width:57.00px;text-align:center">0.106</span></div>
<div class="" style="left:554.10px;top:333.25px;width:52.50px;height:16.60px;background:#f1f5e7"></div>
<div class="" style="left:608.00px;top:333.25px;width:54.20px;height:16.60px;background:#9fd7ae"></div>
<div class="" style="left:662.50px;top:333.25px;width:57.00px;height:16.60px;background:#9cc9f9"></div>
<div class="row" style="left:391.70px;top:334.25px;"><span class="c t" style="width:54.30px;font-weight:bold;text-align:center">USDCAD</span><span class="c t n" style="width:52.60px;text-align:right;margin-right:1.40px">1.2650</span><span class="c t n" style="width:54.30px;text-align:center">1</span><span class="c t n" style="width:54.20px;text-align:center">10</span><span class="c t s" style="width:54.50px;font-weight:bold;text-align:center">4.3</span><span class="c t n" style="width:57.00px;text-align:center;color:#14264a">0.0078</span></div>
<div class="" style="left:554.10px;top:349.85px;width:52.50px;height:16.85px;background:#f7faf1"></div>
<div class="" style="left:608.00px;top:349.85px;width:54.20px;height:16.85px;background:#b4e0c0"></div>
<div class="" style="left:662.50px;top:349.85px;width:57.00px;height:16.85px;background:#9cc9f9"></div>
<div class="row" style="left:391.70px;top:351.25px;"><span class="c t" style="width:54.30px;font-weight:bold;text-align:center">USDCHF</span><span class="c t n" style="width:52.60px;text-align:right;margin-right:1.40px">0.9270</span><span class="c t n" style="width:54.30px;text-align:center">1</span><span class="c t n" style="width:54.20px;text-align:center">6</span><span class="c t s" style="width:54.50px;font-weight:bold;text-align:center">3.2</span><span class="c t n" style="width:57.00px;text-align:center;color:#14264a">0.0055</span></div>
<div class="" style="left:554.10px;top:366.70px;width:52.50px;height:17.05px;background:#f5f8ef"></div>
<div class="" style="left:608.00px;top:366.70px;width:54.20px;height:17.05px;background:#cbe9d3"></div>
<div class="" style="left:662.50px;top:366.70px;width:57.00px;height:17.05px;background:#ffffff"></div>
<div class="row" style="left:391.70px;top:368.65px;"><span class="c t" style="width:54.30px;font-weight:bold;text-align:center">USDJPY</span><span class="c t n" style="width:52.60px;text-align:right;margin-right:1.40px">113.93</span><span class="c t n" style="width:54.30px;text-align:center">1</span><span class="c t n" style="width:54.20px;text-align:center">7</span><span class="c t s" style="width:54.50px;font-weight:bold;text-align:center">2.1</span><span class="c t n" style="width:57.00px;text-align:center">0.64</span></div>
<div class="" style="left:554.10px;top:383.75px;width:52.50px;height:16.80px;background:#eef4e2"></div>
<div class="" style="left:608.00px;top:383.75px;width:54.20px;height:16.80px;background:#6ec284"></div>
<div class="" style="left:662.50px;top:383.75px;width:57.00px;height:16.80px;background:#ffcb68"></div>
<div class="row" style="left:391.70px;top:385.25px;"><span class="c t" style="width:54.30px;font-weight:bold;text-align:center">USDNOK</span><span class="c t n" style="width:52.60px;text-align:right;margin-right:1.40px">8.899</span><span class="c t n" style="width:54.30px;text-align:center">1</span><span class="c t n" style="width:54.20px;text-align:center">12</span><span class="c t s" style="width:54.50px;font-weight:bold;text-align:center">7.0</span><span class="c t n" style="width:57.00px;text-align:center">0.092</span></div>
<div class="" style="left:554.10px;top:400.55px;width:52.50px;height:17.05px;background:#f5f8ef"></div>
<div class="" style="left:608.00px;top:400.55px;width:54.20px;height:17.05px;background:#63be7b"></div>
<div class="" style="left:662.50px;top:400.55px;width:57.00px;height:17.05px;background:#9cc9f9"></div>
<div class="row" style="left:391.70px;top:402.25px;"><span class="c t" style="width:54.30px;font-weight:bold;text-align:center">USDSEK</span><span class="c t n" style="width:52.60px;text-align:right;margin-right:1.40px">8.9412</span><span class="c t n" style="width:54.30px;text-align:center">1</span><span class="c t n" style="width:54.20px;text-align:center">7</span><span class="c t s" style="width:54.50px;font-weight:bold;text-align:center">7.6</span><span class="c t n" style="width:57.00px;text-align:center;color:#14264a">0.072</span></div>
<div class="" style="left:554.10px;top:417.60px;width:52.50px;height:16.95px;background:#dde8c6"></div>
<div class="" style="left:608.00px;top:417.60px;width:54.20px;height:16.95px;background:#bee4c8"></div>
<div class="" style="left:662.50px;top:417.60px;width:57.00px;height:16.95px;background:#ffcb68"></div>
<div class="row" style="left:391.70px;top:419.25px;"><span class="c t" style="width:54.30px;font-weight:bold;text-align:center">XAGUSD</span><span class="c t n" style="width:52.60px;text-align:right;margin-right:1.40px">24.806</span><span class="c t n" style="width:54.30px;text-align:center">1</span><span class="c t n" style="width:54.20px;text-align:center">26</span><span class="c t s" style="width:54.50px;font-weight:bold;text-align:center">2.7</span><span class="c t n" style="width:57.00px;text-align:center">0.57</span></div>
<div class="" style="left:554.10px;top:434.55px;width:52.50px;height:16.70px;background:#f0f5e5"></div>
<div class="" style="left:608.00px;top:434.55px;width:54.20px;height:16.70px;background:#95d3a6"></div>
<div class="" style="left:662.50px;top:434.55px;width:57.00px;height:16.70px;background:#ffffff"></div>
<div class="row" style="left:391.70px;top:435.85px;"><span class="c t" style="width:54.30px;font-weight:bold;text-align:center">XAUUSD</span><span class="c t n" style="width:52.60px;text-align:right;margin-right:1.40px">1862.4</span><span class="c t n" style="width:54.30px;text-align:center">1</span><span class="c t n" style="width:54.20px;text-align:center">11</span><span class="c t s" style="width:54.50px;font-weight:bold;text-align:center">4.8</span><span class="c t n" style="width:57.00px;text-align:center">22.2</span></div>
<div class="" style="left:554.10px;top:451.25px;width:52.50px;height:16.95px;background:#dde8c6"></div>
<div class="" style="left:608.00px;top:451.25px;width:54.20px;height:16.95px;background:#fffcfc"></div>
<div class="" style="left:662.50px;top:451.25px;width:57.00px;height:16.95px;background:#ffcb68"></div>
<div class="row" style="left:391.70px;top:452.55px;"><span class="c t" style="width:54.30px;font-weight:bold;text-align:center">XAUXAG</span><span class="c t n" style="width:52.60px;text-align:right;margin-right:1.40px">75.0766</span><span class="c t n" style="width:54.30px;text-align:center">-1</span><span class="c t n" style="width:54.20px;text-align:center">26</span><span class="c t s" style="width:54.50px;font-weight:bold;text-align:center">-0.2</span><span class="c t n" style="width:57.00px;text-align:center">1.16</span></div>
<div class="" style="left:554.10px;top:468.20px;width:52.50px;height:17.80px;background:#f1f5e7"></div>
<div class="" style="left:608.00px;top:468.20px;width:54.20px;height:17.80px;background:#95d3a6"></div>
<div class="" style="left:662.50px;top:468.20px;width:57.00px;height:17.80px;background:#ffcb68"></div>
<div class="row" style="left:391.70px;top:470.65px;"><span class="c t" style="width:54.30px;font-weight:bold;text-align:center">XAUCNH</span><span class="c t n" style="width:52.60px;text-align:right;margin-right:1.40px">11905</span><span class="c t n" style="width:54.30px;text-align:center">1</span><span class="c t n" style="width:54.20px;text-align:center">10</span><span class="c t s" style="width:54.50px;font-weight:bold;text-align:center">4.8</span><span class="c t n" style="width:57.00px;text-align:center">129</span></div>
<div class="" style="left:554.10px;top:486.00px;width:52.50px;height:15.20px;background:#ffffff"></div>
<div class="" style="left:608.00px;top:486.00px;width:54.20px;height:15.20px;background:#fbbcbf"></div>
<div class="" style="left:662.50px;top:486.00px;width:57.00px;height:15.20px;background:#3d8df0"></div>
<div class="row" style="left:391.70px;top:486.65px;"><span class="c t" style="width:54.30px;font-weight:bold;text-align:center">GBPCNH</span><span class="c t n" style="width:52.60px;text-align:right;margin-right:1.40px">8.579</span><span class="c t n" style="width:54.30px;text-align:center">-1</span><span class="c t n" style="width:54.20px;text-align:center">2</span><span class="c t s" style="width:54.50px;font-weight:bold;text-align:center">-4.5</span><span class="c t n" style="width:57.00px;text-align:center;color:#14264a">0.050</span></div>
<div class="" style="left:554.10px;top:501.20px;width:52.50px;height:15.10px;background:#f0f5e5"></div>
<div class="" style="left:608.00px;top:501.20px;width:54.20px;height:15.10px;background:#faa4a9"></div>
<div class="" style="left:662.50px;top:501.20px;width:57.00px;height:15.10px;background:#ffffff"></div>
<div class="row" style="left:391.70px;top:502.05px;"><span class="c t" style="width:54.30px;font-weight:bold;text-align:center">AUDCNH</span><span class="c t n" style="width:52.60px;text-align:right;margin-right:1.40px">4.627</span><span class="c t n" style="width:54.30px;text-align:center">-1</span><span class="c t n" style="width:54.20px;text-align:center">11</span><span class="c t s" style="width:54.50px;font-weight:bold;text-align:center">-6.1</span><span class="c t n" style="width:57.00px;text-align:center">0.034</span></div>
<div class="t h" style="left:387.20px;top:44.50px;width:62.30px;height:16.00px;line-height:19px;font-weight:bold;text-align:center;">Pair</div>
<div class="t h" style="left:441.50px;top:44.50px;width:62.00px;height:16.00px;line-height:19px;font-weight:bold;text-align:center;">Quote</div>
<div class="t h" style="left:495.50px;top:44.50px;width:62.30px;height:16.00px;line-height:19px;font-weight:bold;text-align:center;">Trend</div>
<div class="t h" style="left:549.80px;top:44.50px;width:62.20px;height:16.00px;line-height:19px;font-weight:bold;text-align:center;">Age(Days)</div>
<div class="t h" style="left:604.00px;top:44.50px;width:62.50px;height:16.00px;line-height:19px;font-weight:bold;text-align:center;">Score</div>
<div class="t h" style="left:658.50px;top:44.50px;width:65.00px;height:16.00px;line-height:19px;font-weight:bold;text-align:center;">ATR<span class='st'>*</span></div>
<div class="" style="left:390.70px;top:60.70px;width:329.60px;height:1.75px;background:#111"></div>
<div class="" style="left:391.20px;top:112.60px;width:328.30px;height:1.15px;background:#1a1a1a"></div>
<div class="" style="left:391.20px;top:163.60px;width:328.30px;height:1.15px;background:#1a1a1a"></div>
<div class="" style="left:391.20px;top:214.60px;width:328.30px;height:1.15px;background:#1a1a1a"></div>
<div class="" style="left:391.20px;top:265.30px;width:328.30px;height:1.15px;background:#1a1a1a"></div>
<div class="" style="left:391.20px;top:316.00px;width:328.30px;height:1.15px;background:#1a1a1a"></div>
<div class="" style="left:391.20px;top:366.30px;width:328.30px;height:1.15px;background:#1a1a1a"></div>
<div class="" style="left:391.20px;top:417.20px;width:328.30px;height:1.15px;background:#1a1a1a"></div>
<div class="" style="left:391.20px;top:467.80px;width:328.30px;height:1.15px;background:#1a1a1a"></div>
<div class="" style="left:391.20px;top:515.70px;width:329.10px;height:1.40px;background:#111"></div>
<div class="" style="left:390.80px;top:60.70px;width:1.25px;height:456.30px;background:#111"></div>
<div class="" style="left:607.15px;top:61.00px;width:1.55px;height:455.30px;background:#111"></div>
<div class="" style="left:661.70px;top:61.00px;width:1.60px;height:455.30px;background:#111"></div>
<div class="" style="left:718.60px;top:60.70px;width:1.60px;height:456.30px;background:#111"></div>
<div class="" style="left:607.10px;top:467.60px;width:56.10px;height:49.00px;border:1.8px solid #111;box-sizing:border-box"></div>
<div class="" style="left:0.00px;top:517.20px;width:224.00px;height:10.00px;background:#fff;overflow:hidden;"><div class="t" style="position:absolute;left:2.6px;top:-1.3px;font-weight:bold;white-space:nowrap;line-height:14px;font-size:9.6px;letter-spacing:-0.12px">*ATR based on 50-day EMA, shading based on co</div></div>
<div class="" style="left:225.60px;top:517.20px;width:219.20px;height:10.00px;background:#fff"></div>
<div class="" style="left:0.00px;top:527.00px;width:720.00px;height:9.00px;background:#fff"></div>
</div>
<div id="title">FX Board - Trend Scoreboard - Individual pairs</div>
<div id="date">Friday, November 19, 2021</div>
<div id="logo"><div class="w">SAXO</div><div class="b">BANK</div></div>
<svg id="wm" width="720" height="536" viewBox="0 0 720 536" style="position:absolute;left:0;top:0" font-family="Liberation Sans, sans-serif" font-weight="bold" font-size="100" fill="#3a6fd8" stroke="#3a6fd8" stroke-width="3.2" stroke-linejoin="round" opacity="0.68"><text transform="matrix(0.2353 0.0476 0.0225 0.3171 259.41 282.90)">b</text><text transform="matrix(0.2933 0.0550 0.0169 0.2568 274.46 286.76)">i</text><text transform="matrix(0.2857 0.0321 0.0114 0.2898 281.59 290.27)">n</text><text transform="matrix(0.2609 0.0059 0.0022 0.2778 298.94 292.83)">a</text><text transform="matrix(0.3125 -0.0234 -0.0073 0.2778 313.93 292.52)">r</text><text transform="matrix(0.2857 -0.0643 -0.0208 0.2642 325.95 290.20)">y</text><text transform="matrix(0.2750 -0.0784 -0.0231 0.2315 342.30 284.09)">c</text><text transform="matrix(0.2900 -0.0653 -0.0195 0.2479 356.95 278.38)">l</text><text transform="matrix(0.2939 -0.0331 -0.0097 0.2472 363.58 276.61)">u</text><text transform="matrix(0.2598 -0.0292 -0.0115 0.2911 381.77 274.67)">b</text><text transform="matrix(0.3333 -0.0375 -0.0131 0.3333 398.50 270.51)">.</text><text transform="matrix(0.2578 -0.0155 -0.0053 0.2545 407.57 266.96)">g</text><text transform="matrix(0.2551 0.0000 0.0000 0.2594 422.22 267.50)">u</text><text transform="matrix(0.3125 0.0234 0.0070 0.2667 437.71 268.88)">r</text><text transform="matrix(0.3061 0.0459 0.0173 0.3302 453.02 275.50)">u</text></svg>
</body></html>
